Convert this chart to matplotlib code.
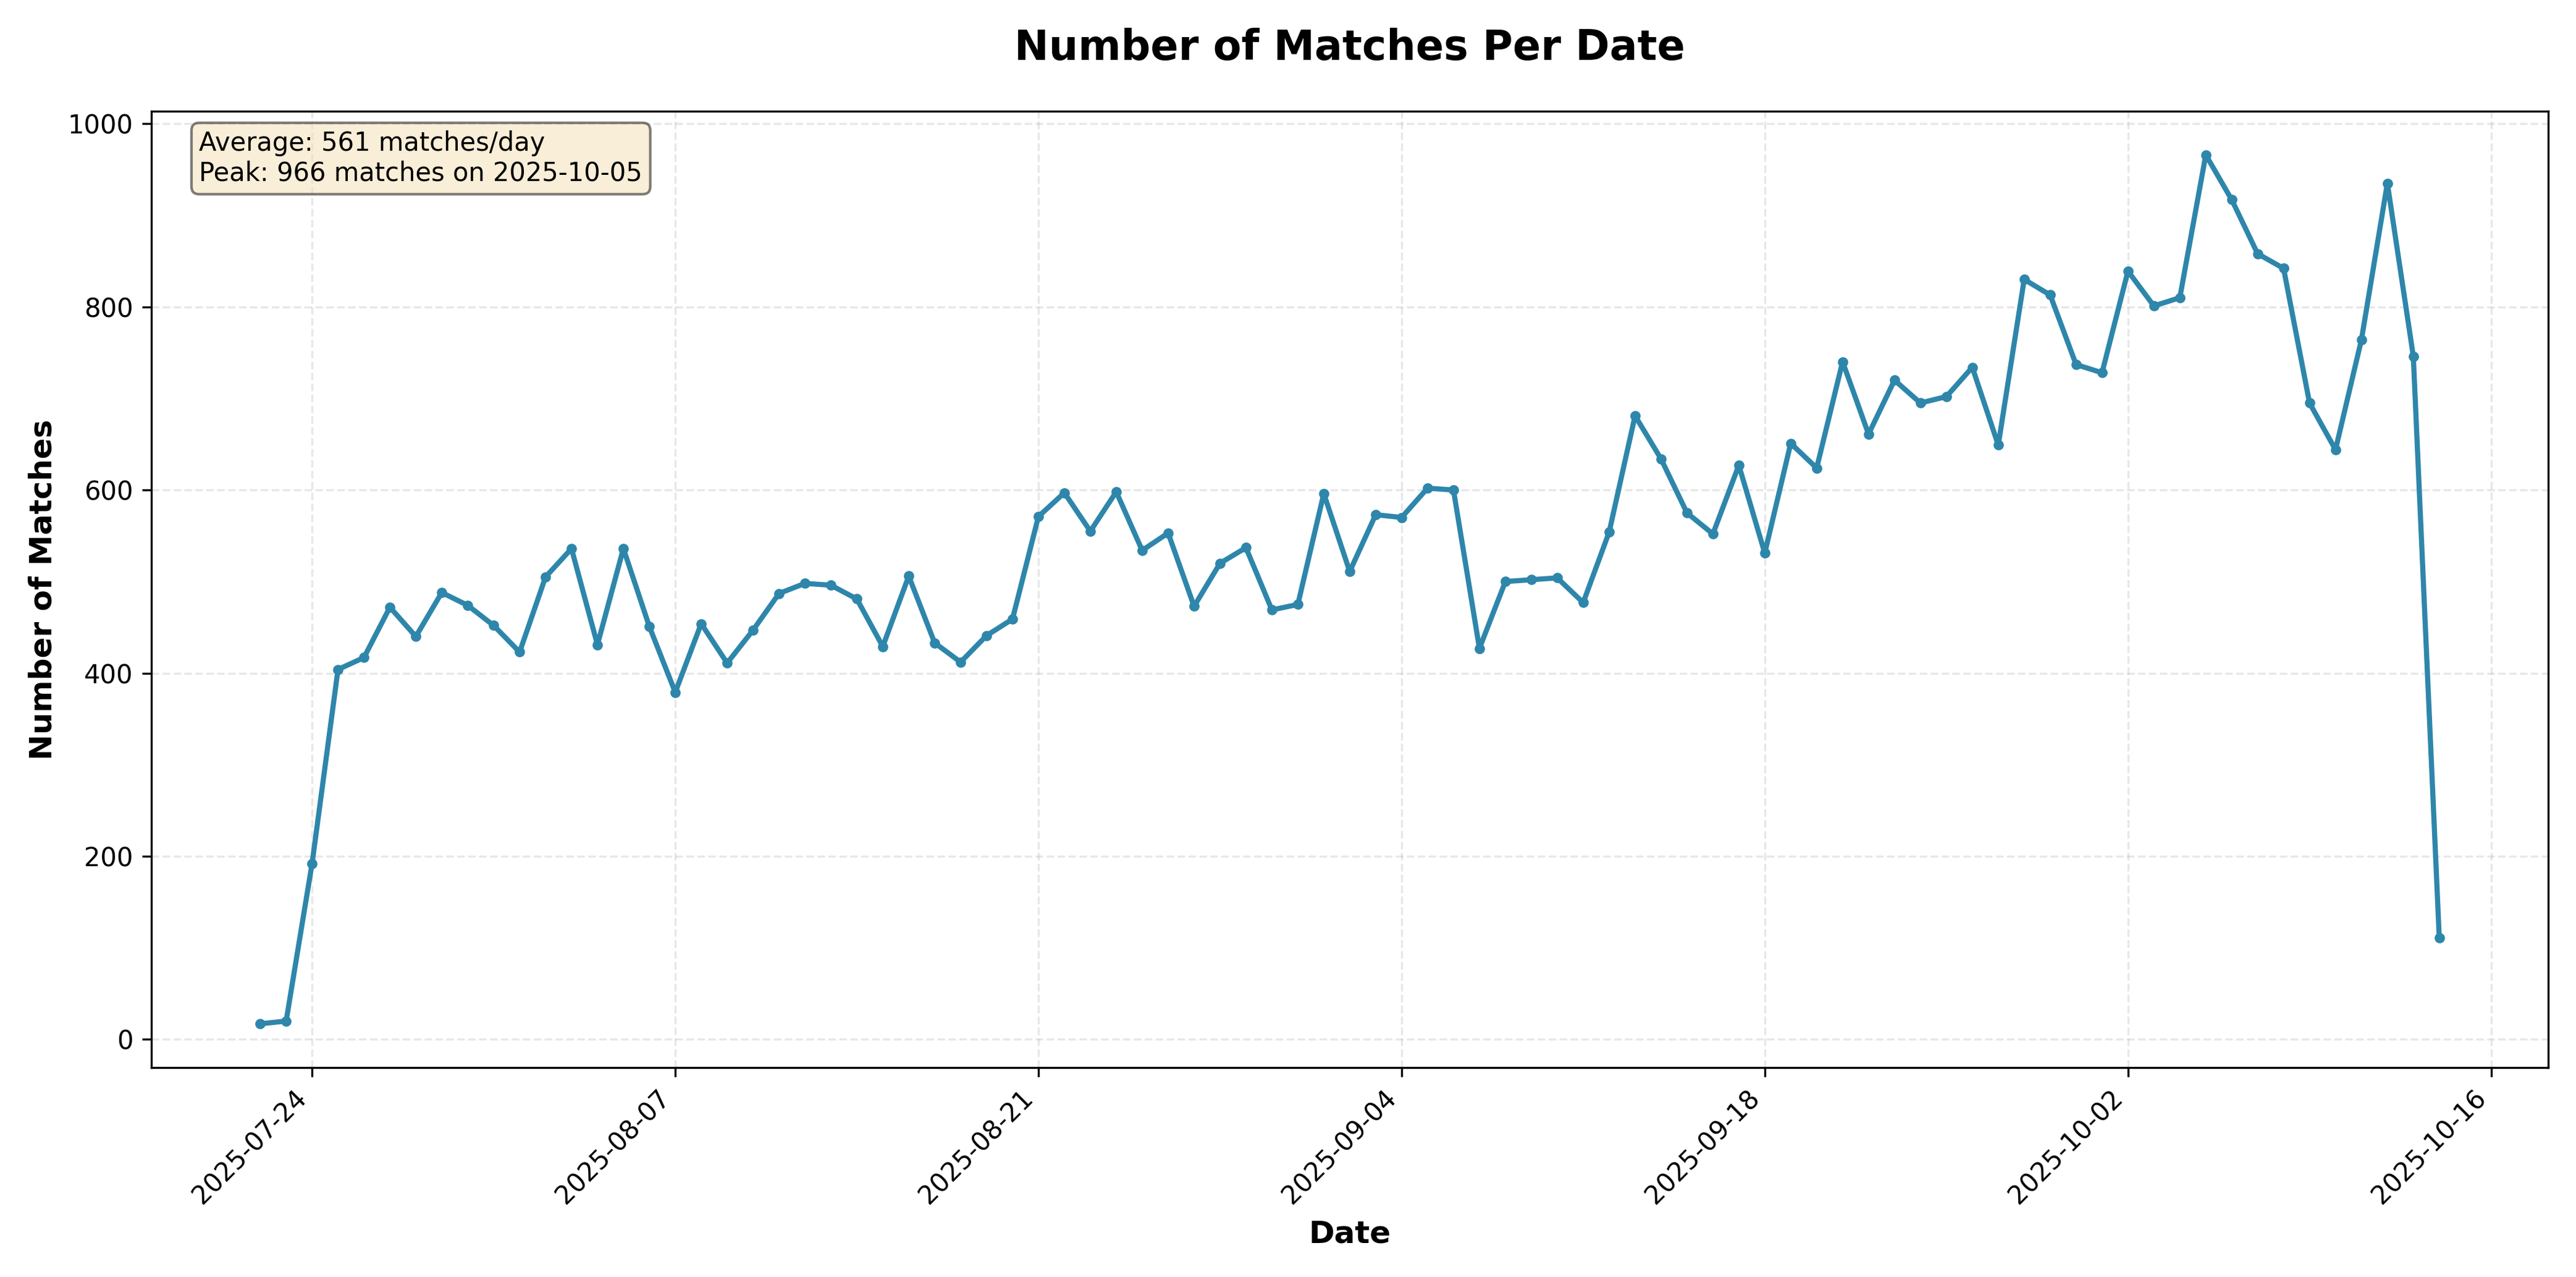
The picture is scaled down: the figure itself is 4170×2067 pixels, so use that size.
import matplotlib
matplotlib.use("Agg")
import matplotlib.pyplot as plt
import matplotlib.dates as mdates
import numpy as np
import pandas as pd

# Tageswerte ab 2025-07-22
start_date = "2025-07-22"
matches = [17, 20, 192, 404, 417, 472, 440, 488, 474, 452, 423, 505, 536, 431,
           536, 451, 379, 454, 411, 447, 487, 498, 496, 481, 429, 506, 433, 412,
           441, 459, 571, 597, 555, 598, 534, 553, 473, 520, 537, 469, 475, 596,
           511, 573, 570, 602, 600, 427, 500, 502, 504, 477, 554, 681, 634, 575,
           552, 627, 531, 651, 624, 740, 661, 720, 695, 702, 734, 649, 830, 813,
           737, 728, 839, 801, 810, 966, 917, 858, 842, 695, 644, 764, 935, 746,
           111]
dates = pd.date_range(start_date, periods=len(matches), freq="D")

fig, ax = plt.subplots(figsize=(13.9, 6.89), dpi=300)
ax.plot(dates, matches, color="#2E86AB", linewidth=2, marker="o", markersize=3)

ax.set_title("Number of Matches Per Date", fontsize=16, fontweight="bold", pad=20)
ax.set_xlabel("Date", fontsize=12, fontweight="bold")
ax.set_ylabel("Number of Matches", fontsize=12, fontweight="bold")
ax.grid(True, alpha=0.3, linestyle="--")

ax.xaxis.set_major_locator(mdates.DayLocator(interval=14))
ax.xaxis.set_major_formatter(mdates.DateFormatter("%Y-%m-%d"))
plt.setp(ax.get_xticklabels(), rotation=45, ha="right")

avg = np.mean(matches)
peak_i = int(np.argmax(matches))
text = f"Average: {avg:.0f} matches/day\nPeak: {matches[peak_i]} matches on {dates[peak_i]:%Y-%m-%d}"
ax.text(0.02, 0.98, text, transform=ax.transAxes, fontsize=10, va="top",
        bbox=dict(boxstyle="round", facecolor="wheat", alpha=0.5))

plt.tight_layout()
plt.savefig("out.png", dpi=300)
